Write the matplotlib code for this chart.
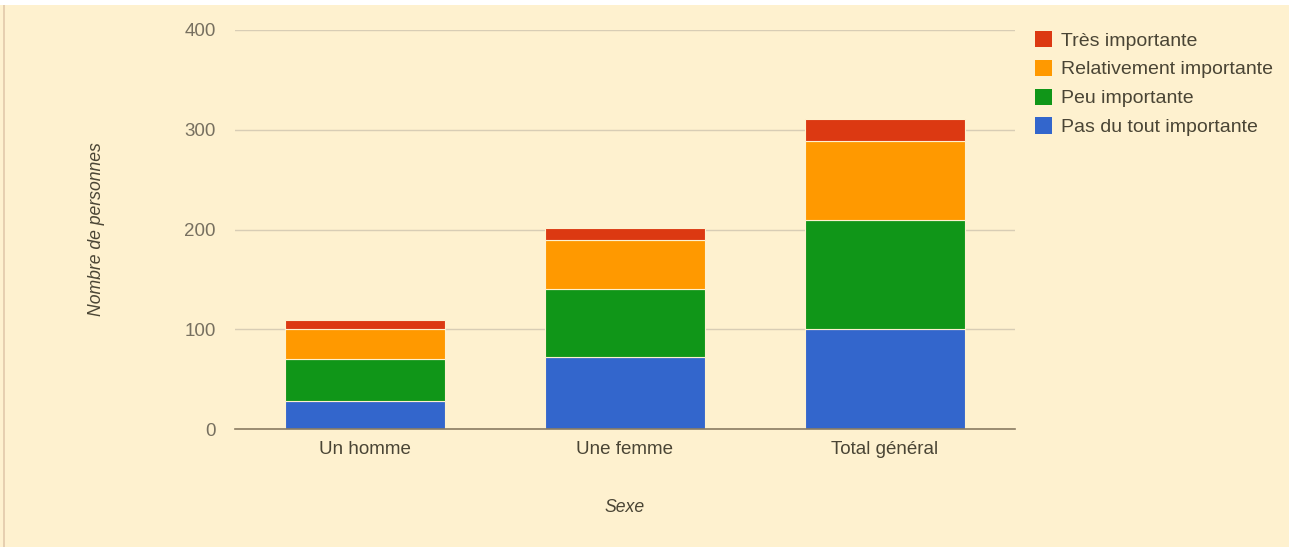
import matplotlib
matplotlib.use("Agg")
import matplotlib.pyplot as plt
from matplotlib.patches import Rectangle, Patch
import numpy as np

categories = ["Un homme", "Une femme", "Total général"]
series_names = ["Pas du tout importante", "Peu importante", "Relativement importante", "Très importante"]
pas_du_tout = [28, 72, 100]
peu = [42, 68, 110]
relativement = [30, 49, 79]
tres = [9, 13, 22]
y_ticks = [0, 100, 200, 300, 400]

colors = ["#3366cc", "#109618", "#ff9900", "#dc3912"]
bg = "#fef1cf"

plt.rcParams['font.family'] = ['Liberation Sans', 'DejaVu Sans']

fig = plt.figure(figsize=(12.89, 5.47), dpi=100, facecolor=bg)
ax = fig.add_axes([235/1289, 1 - 429/547, 780/1289, 399/547])
ax.set_facecolor(bg)

x = np.arange(len(categories))
bottom = np.zeros(len(categories))
handles = []
for vals, col, name in zip([pas_du_tout, peu, relativement, tres], colors, series_names):
    ax.bar(x, vals, width=0.615, bottom=bottom, color=col, edgecolor=bg, linewidth=0.8, zorder=3)
    bottom += np.array(vals)
    handles.append(Patch(facecolor=col, edgecolor='none', label=name))

ax.set_xlim(-0.5, 2.5)
ax.set_ylim(0, 400)
ax.set_yticks(y_ticks)
ax.set_yticklabels([str(v) for v in y_ticks], color="#777060", fontsize=13.5)
ax.set_xticks(x)
ax.set_xticklabels(categories, color="#4a4535", fontsize=13.5)
ax.tick_params(axis='both', length=0)
ax.tick_params(axis='y', pad=14)
ax.tick_params(axis='x', pad=9)
ax.yaxis.grid(True, color="#d8cdb5", linewidth=1, zorder=0)
ax.set_axisbelow(True)
for s in ['top', 'right', 'left']:
    ax.spines[s].set_visible(False)
ax.spines['bottom'].set_color("#8a7c62")
ax.spines['bottom'].set_linewidth(1.2)
ax.spines['bottom'].set_zorder(4)

ax.set_ylabel("Nombre de personnes", fontstyle='italic', color="#4a4535", fontsize=12.7, labelpad=57)
ax.set_xlabel("Sexe", fontstyle='italic', color="#4a4535", fontsize=12.7, labelpad=29)

leg = fig.legend(handles=handles[::-1], loc='upper left', bbox_to_anchor=(1027/1289, 1 - 23/547),
                 frameon=False, fontsize=14, handlelength=0.9, handleheight=0.9,
                 handletextpad=0.45, labelspacing=0.52, borderaxespad=0)
for t in leg.get_texts():
    t.set_color("#4a4535")

# top white strip and left border
fig.patches.append(Rectangle((0, 1 - 5/547), 1, 5/547, transform=fig.transFigure, facecolor="white", edgecolor='none', zorder=0))
fig.patches.append(Rectangle((3/1289, 0), 2/1289, 1 - 5/547, transform=fig.transFigure, facecolor="#e6cfb0", edgecolor='none', zorder=0))

fig.savefig("out.png", dpi=100, facecolor=bg)
